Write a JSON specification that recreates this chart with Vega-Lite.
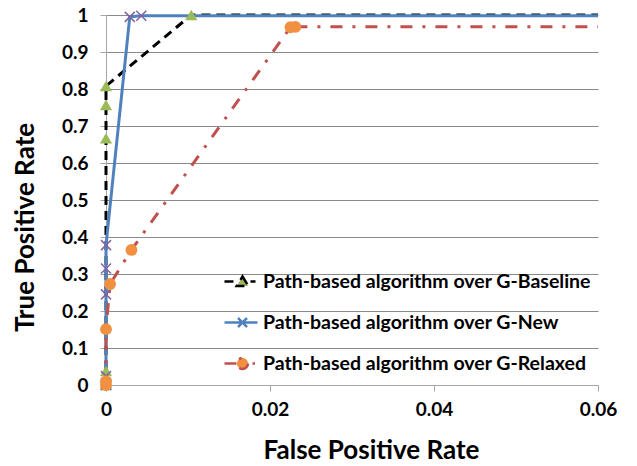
{
  "$schema": "https://vega.github.io/schema/vega-lite/v6.json",
  "width": 492,
  "height": 370,
  "autosize": {"type": "none"},
  "padding": {"left": 106, "top": 15, "right": 39, "bottom": 81},
  "background": "white",
  "config": {
    "view": {"stroke": null},
    "font": "Lato",
    "axis": {"labelFont": "Lato", "labelFontWeight": "bold", "labelFontSize": 19, "labelColor": "black", "titleFont": "Lato", "titleFontWeight": "bold", "titleFontSize": 26, "titleColor": "black", "domainColor": "#a6a6a6", "tickColor": "#a6a6a6", "gridColor": "#8a8a8a", "gridOpacity": 1, "domainWidth": 1, "tickWidth": 1, "gridWidth": 1}
  },
  "data": {"values": [
    {"series": "Path-based algorithm over G-Baseline", "idx": 1, "fpr": 0, "tpr": 0},
    {"series": "Path-based algorithm over G-Baseline", "idx": 2, "fpr": 0, "tpr": 0.005},
    {"series": "Path-based algorithm over G-Baseline", "idx": 3, "fpr": 0, "tpr": 0.038},
    {"series": "Path-based algorithm over G-Baseline", "idx": 4, "fpr": 0, "tpr": 0.667},
    {"series": "Path-based algorithm over G-Baseline", "idx": 5, "fpr": 0, "tpr": 0.757},
    {"series": "Path-based algorithm over G-Baseline", "idx": 6, "fpr": 0, "tpr": 0.808},
    {"series": "Path-based algorithm over G-Baseline", "idx": 7, "fpr": 0.0104, "tpr": 1.0},
    {"series": "Path-based algorithm over G-Baseline", "idx": 8, "fpr": 0.06, "tpr": 1.0},
    {"series": "Path-based algorithm over G-New", "idx": 1, "fpr": 0, "tpr": 0},
    {"series": "Path-based algorithm over G-New", "idx": 2, "fpr": 0, "tpr": 0.005},
    {"series": "Path-based algorithm over G-New", "idx": 3, "fpr": 0, "tpr": 0.024},
    {"series": "Path-based algorithm over G-New", "idx": 4, "fpr": 0, "tpr": 0.245},
    {"series": "Path-based algorithm over G-New", "idx": 5, "fpr": 0, "tpr": 0.315},
    {"series": "Path-based algorithm over G-New", "idx": 6, "fpr": 0, "tpr": 0.378},
    {"series": "Path-based algorithm over G-New", "idx": 7, "fpr": 0.0029, "tpr": 0.995},
    {"series": "Path-based algorithm over G-New", "idx": 8, "fpr": 0.0043, "tpr": 0.998},
    {"series": "Path-based algorithm over G-New", "idx": 9, "fpr": 0.06, "tpr": 0.998},
    {"series": "Path-based algorithm over G-Relaxed", "idx": 1, "fpr": 0, "tpr": 0},
    {"series": "Path-based algorithm over G-Relaxed", "idx": 2, "fpr": 0, "tpr": 0.01},
    {"series": "Path-based algorithm over G-Relaxed", "idx": 3, "fpr": 0, "tpr": 0.151},
    {"series": "Path-based algorithm over G-Relaxed", "idx": 4, "fpr": 0.0005, "tpr": 0.273},
    {"series": "Path-based algorithm over G-Relaxed", "idx": 5, "fpr": 0.0031, "tpr": 0.365},
    {"series": "Path-based algorithm over G-Relaxed", "idx": 6, "fpr": 0.0225, "tpr": 0.967},
    {"series": "Path-based algorithm over G-Relaxed", "idx": 7, "fpr": 0.0231, "tpr": 0.968},
    {"series": "Path-based algorithm over G-Relaxed", "idx": 8, "fpr": 0.06, "tpr": 0.968}
  ]},
  "encoding": {
    "x": {"field": "fpr", "type": "quantitative", "scale": {"domain": [0, 0.06], "nice": false, "zero": false},
      "axis": {"title": "False Positive Rate", "values": [0, 0.02, 0.04, 0.06], "format": ".2~f", "grid": false, "tickSize": 6, "labelPadding": 9, "labelFlush": false, "titleX": 265, "titleY": 73, "titleBaseline": "alphabetic", "titleAnchor": null}},
    "y": {"field": "tpr", "type": "quantitative", "scale": {"domain": [0, 1], "nice": false},
      "axis": {"title": "True Positive Rate", "values": [0, 0.1, 0.2, 0.3, 0.4, 0.5, 0.6, 0.7, 0.8, 0.9, 1], "format": ".1~f", "grid": true, "tickSize": 6, "labelPadding": 12, "labelFlush": false, "titleX": -73, "titleY": 212, "titleBaseline": "alphabetic", "titleAngle": -90}}
  },
  "layer": [
    {
      "mark": {"type": "line", "strokeWidth": 3, "strokeCap": "butt"},
      "encoding": {
        "order": {"field": "idx", "type": "quantitative"},
        "color": {"field": "series", "type": "nominal",
          "scale": {"domain": ["Path-based algorithm over G-Baseline", "Path-based algorithm over G-New", "Path-based algorithm over G-Relaxed"], "range": ["#000000", "#4F81BD", "#C0504D"]},
          "legend": {"title": null, "orient": "none", "legendX": 125, "legendY": 255, "symbolSize": 400, "symbolStrokeWidth": 2.5, "symbolDash": [1, 0], "labelFont": "Lato", "labelFontWeight": "bold", "labelFontSize": 19.5, "labelColor": "black", "labelOffset": 9, "rowPadding": 20, "labelLimit": 500,
            "encode": {"symbols": {"update": {
              "shape": {"signal": "datum.value == 'Path-based algorithm over G-Baseline' ? 'M-1.8,0H-0.75M0.8,0H1.3M0,-0.5L0.58,0.45L-0.58,0.45Z' : datum.value == 'Path-based algorithm over G-New' ? 'M-1.8,0H1.5M-0.45,-0.45L0.45,0.45M-0.45,0.45L0.45,-0.45' : 'M-1.8,0H-0.55M1.0,0H1.25M0.55,0A0.55,0.55 0 1,1 -0.55,0A0.55,0.55 0 1,1 0.55,0Z'"},
              "fill": {"signal": "datum.value == 'Path-based algorithm over G-Baseline' ? '#9BBB59' : datum.value == 'Path-based algorithm over G-New' ? 'transparent' : '#F09040'"},
              "strokeDash": {"value": [1, 0]},
              "opacity": {"value": 1}
            }}}}},
        "strokeDash": {"field": "series", "type": "nominal",
          "scale": {"domain": ["Path-based algorithm over G-Baseline", "Path-based algorithm over G-New", "Path-based algorithm over G-Relaxed"], "range": [[9, 6], [1, 0], [12, 10, 3, 10]]},
          "legend": null}
      }
    },
    {
      "transform": [{"filter": "datum.series == 'Path-based algorithm over G-Baseline' && datum.fpr < 0.06"}],
      "mark": {"type": "point", "shape": "triangle-up", "filled": true, "fill": "#9BBB59", "size": 150, "strokeWidth": 0, "opacity": 1}
    },
    {
      "transform": [{"filter": "datum.series == 'Path-based algorithm over G-New' && datum.fpr < 0.06"}],
      "mark": {"type": "point", "shape": "M-1,-1L1,1M-1,1L1,-1", "filled": false, "stroke": "#8064A2", "size": 100, "strokeWidth": 1.5, "opacity": 1}
    },
    {
      "transform": [{"filter": "datum.series == 'Path-based algorithm over G-Relaxed' && datum.fpr < 0.06"}],
      "mark": {"type": "circle", "fill": "#F09040", "size": 140, "opacity": 1}
    }
  ]
}
